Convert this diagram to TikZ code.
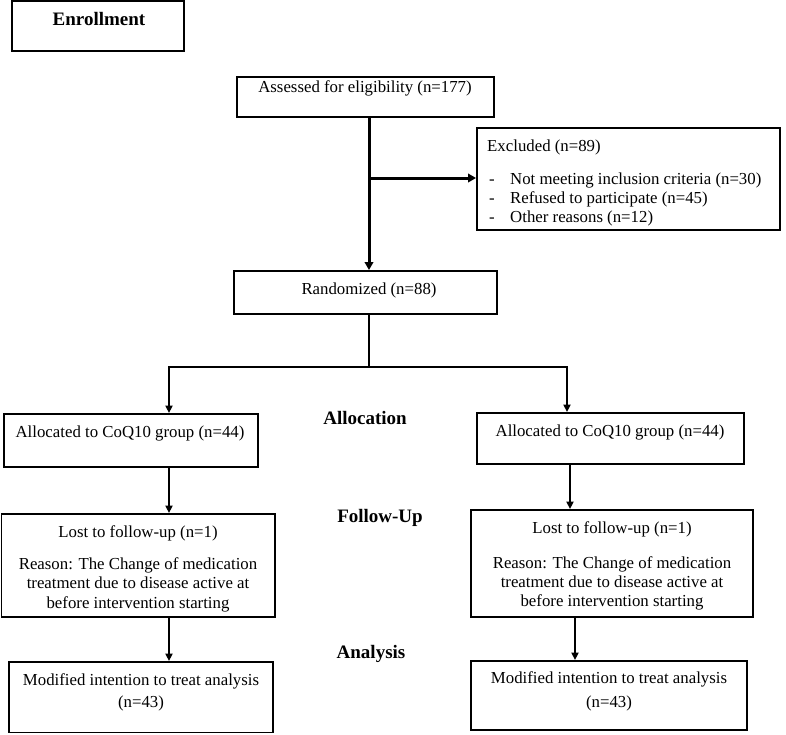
\documentclass[tikz,border=0pt]{standalone}
\usepackage{fontspec}
\setmainfont{Liberation Serif}
\usetikzlibrary{arrows.meta,calc}
\tikzset{
  box/.style={draw, line width=1.9pt, rectangle, inner sep=0pt},
  txt/.style={font=\fontsize{16.8}{19.5}\selectfont, inner sep=0pt, anchor=base},
  lbl/.style={font=\fontsize{19}{22}\selectfont\bfseries, inner sep=0pt, anchor=base},
  thick arr/.style={line width=3pt, -{Triangle[length=8pt,width=8.5pt]}},
  thick ln/.style={line width=3pt},
  arr/.style={line width=1.9pt, -{Triangle[length=7.5pt,width=7pt]}},
  ln/.style={line width=1.9pt},
}
\newcommand{\bx}[6][]{%
  \node[box,#1, minimum width={(#5-#3)*1pt}, minimum height={(#6-#4)*1pt}] (#2) at ({(#3+#5)/2},{-(#4+#6)/2}) {};}
\begin{document}
\begin{tikzpicture}[x=1pt,y=1pt]
\useasboundingbox (0,0) rectangle (786,-734);
% boxes
\bx{enr}{12}{1}{184}{51}
\bx{assess}{237}{77}{494}{117}
\bx{excl}{477}{128}{780}{230}
\bx{rand}{234}{271}{497}{314}
\bx{allocL}{4}{414}{258}{467}
\bx{allocR}{477}{413}{744}{464}
\bx{lostL}{1.5}{514}{275}{617}
\bx{lostR}{471}{510}{753}{617}
\bx{modL}{9}{662}{273}{732.5}
\bx{modR}{471}{661}{747}{730}
% texts
\node[lbl] (tenr) at (99,-25) {Enrollment};
\node[txt] (tassess) at (365,-92) {Assessed for eligibility (n=177)};
\node[txt, anchor=base west] (texcl) at (487,-151) {Excluded (n=89)};
\node[txt, anchor=base west] (d1) at (489,-184) {-};
\node[txt, anchor=base west] (d2) at (489,-203) {-};
\node[txt, anchor=base west] (d3) at (489,-222) {-};
\node[txt, anchor=base west] (e1) at (510,-184) {Not meeting inclusion criteria (n=30)};
\node[txt, anchor=base west] (e2) at (510,-203) {Refused to participate (n=45)};
\node[txt, anchor=base west] (e3) at (510,-222) {Other reasons (n=12)};
\node[txt] (trand) at (369,-294) {Randomized (n=88)};
\node[lbl] (lalloc) at (365,-424) {Allocation};
\node[lbl] (lfollow) at (380,-522) {Follow-Up};
\node[lbl] (lanal) at (371,-658) {Analysis};
\node[txt] (tallocL) at (130,-437) {Allocated to CoQ10 group (n=44)};
\node[txt] (tallocR) at (610,-436) {Allocated to CoQ10 group (n=44)};
\node[txt] (tlostL1) at (138,-537) {Lost to follow-up (n=1)};
\node[txt] (tlostL2) at (138,-569) {Reason: The Change of medication};
\node[txt] (tlostL3) at (138,-588) {treatment due to disease active at};
\node[txt] (tlostL4) at (138,-608) {before intervention starting};
\node[txt] (tlostR1) at (612,-533) {Lost to follow-up (n=1)};
\node[txt] (tlostR2) at (612,-568) {Reason: The Change of medication};
\node[txt] (tlostR3) at (612,-587) {treatment due to disease active at};
\node[txt] (tlostR4) at (612,-606) {before intervention starting};
\node[txt] (tmodL1) at (141,-685) {Modified intention to treat analysis};
\node[txt] (tmodL2) at (141,-707) {(n=43)};
\node[txt] (tmodR1) at (609,-683) {Modified intention to treat analysis};
\node[txt] (tmodR2) at (609,-707) {(n=43)};
% connector coordinates
\coordinate (mainx) at (369,0);
\coordinate (leftx) at (169,0);
\coordinate (rightx) at (567,0);
\coordinate (branch) at (369,-178);
\coordinate (split) at (369,-367);
\coordinate (rx2) at (570,0);
\coordinate (rx3) at (575,0);
% connectors
\draw[thick ln] (assess.south -| mainx) -- (branch);
\draw[thick arr] (branch) -- (branch -| excl.west);
\draw[thick arr] (branch) -- (rand.north -| mainx);
\draw[ln] (rand.south -| mainx) -- (split);
\draw[arr] (split) -- (split -| leftx) -- (allocL.north -| leftx);
\draw[arr] (split) -- (split -| rightx) -- (allocR.north -| rightx);
\draw[arr] (allocL.south -| leftx) -- (lostL.north -| leftx);
\draw[arr] (allocR.south -| rx2) -- (lostR.north -| rx2);
\draw[arr] (lostL.south -| leftx) -- (modL.north -| leftx);
\draw[arr] (lostR.south -| rx3) -- (modR.north -| rx3);
\end{tikzpicture}
\end{document}
